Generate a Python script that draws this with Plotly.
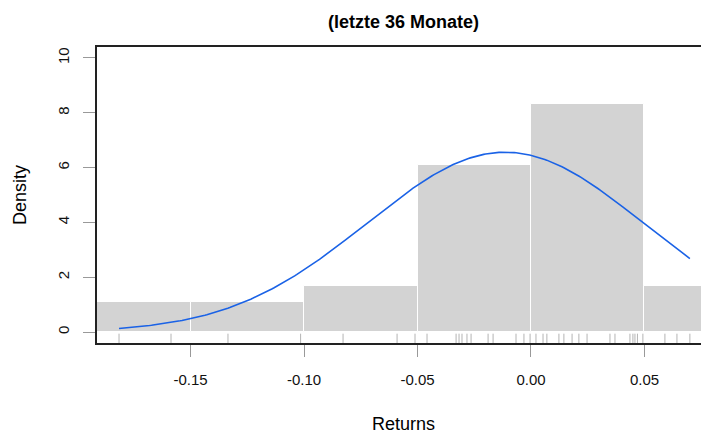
import numpy as np
import plotly.graph_objects as go

# Monthly returns (last 36 months)
returns = [
    -0.1815, -0.1586,
    -0.1335, -0.1015,
    -0.0828, -0.0590, -0.0511,
    -0.0458, -0.0330, -0.0317, -0.0304, -0.0282, -0.0264, -0.0189, -0.0167,
    -0.0066, -0.0031, -0.0004,
    0.0022, 0.0053, 0.0070, 0.0123, 0.0145, 0.0181, 0.0211, 0.0247,
    0.0348, 0.0370, 0.0436, 0.0449, 0.0458, 0.0469, 0.0493,
    0.0590, 0.0643, 0.0700,
]
bin_start = -0.2
bin_end = 0.1
bin_size = 0.05

x_tick_vals = [-0.15, -0.10, -0.05, 0.00, 0.05]
x_tick_text = ["-0.15", "-0.10", "-0.05", "0.00", "0.05"]
y_tick_vals = [0, 2, 4, 6, 8, 10]
y_tick_text = ["0", "2", "4", "6", "8", "10"]

title_text = "(letzte 36 Monate)"
x_title = "Returns"
y_title = "Density"

r = np.array(returns)
mu = r.mean()
sd = r.std(ddof=1)
xc = np.linspace(r.min(), r.max(), 300)
yc = np.exp(-0.5 * ((xc - mu) / sd) ** 2) / (sd * np.sqrt(2 * np.pi))

FONT = "Liberation Sans, Arial, Helvetica, sans-serif"

fig = go.Figure()
fig.add_trace(go.Histogram(
    x=returns,
    xbins=dict(start=bin_start, end=bin_end, size=bin_size),
    histnorm="probability density",
    marker=dict(color="#D3D3D3", line=dict(color="white", width=1)),
    showlegend=False,
))

rx, ry = [], []
for v in returns:
    rx += [v, v, None]
    ry += [-0.4, -0.06, None]
fig.add_trace(go.Scatter(x=rx, y=ry, mode="lines",
                         line=dict(color="#b4b4b4", width=1),
                         showlegend=False, hoverinfo="skip"))

fig.add_trace(go.Scatter(x=xc, y=yc, mode="lines",
                         line=dict(color="#1a62e6", width=1.6),
                         showlegend=False))

fig.update_layout(
    width=701, height=430,
    margin=dict(l=97, r=0, t=47, b=87),
    paper_bgcolor="white", plot_bgcolor="white",
    bargap=0,
    font=dict(family=FONT, color="black"),
    xaxis=dict(range=[-0.1912, 0.0749], tickvals=x_tick_vals, ticktext=x_tick_text,
               ticks="outside", ticklen=12, tickcolor="#999999", tickwidth=1,
               ticklabelstandoff=10,
               showgrid=False, zeroline=False,
               showline=True, linecolor="#222222", linewidth=2, mirror=True,
               tickfont=dict(size=15, family=FONT, color="#111111")),
    yaxis=dict(range=[-0.4, 10.4], tickvals=y_tick_vals, ticktext=y_tick_text,
               ticks="outside", ticklen=12, tickcolor="#999999", tickwidth=1,
               ticklabelstandoff=8,
               showgrid=False, zeroline=False, tickangle=-90,
               showline=True, linecolor="#222222", linewidth=2, mirror=False,
               tickfont=dict(size=15, family=FONT, color="#111111")),
    annotations=[
        dict(text="<b>" + title_text + "</b>", xref="paper", yref="paper",
             x=0.508, y=1.0845, xanchor="center", yanchor="middle",
             showarrow=False, font=dict(size=18, family=FONT, color="black")),
        dict(text=x_title, xref="paper", yref="paper",
             x=0.508, y=-0.2736, xanchor="center", yanchor="middle",
             showarrow=False, font=dict(size=18, family=FONT, color="black")),
        dict(text=y_title, xref="paper", yref="paper", textangle=-90,
             x=-0.1275, y=0.5, xanchor="center", yanchor="middle",
             showarrow=False, font=dict(size=18, family=FONT, color="black")),
    ],
)

fig.write_html(
    "out.html",
    config={"displayModeBar": False},
    post_script="document.documentElement.style.margin='0';"
                "document.documentElement.style.overflow='hidden';"
                "document.body.style.margin='0';"
                "document.body.style.overflow='hidden';",
)
